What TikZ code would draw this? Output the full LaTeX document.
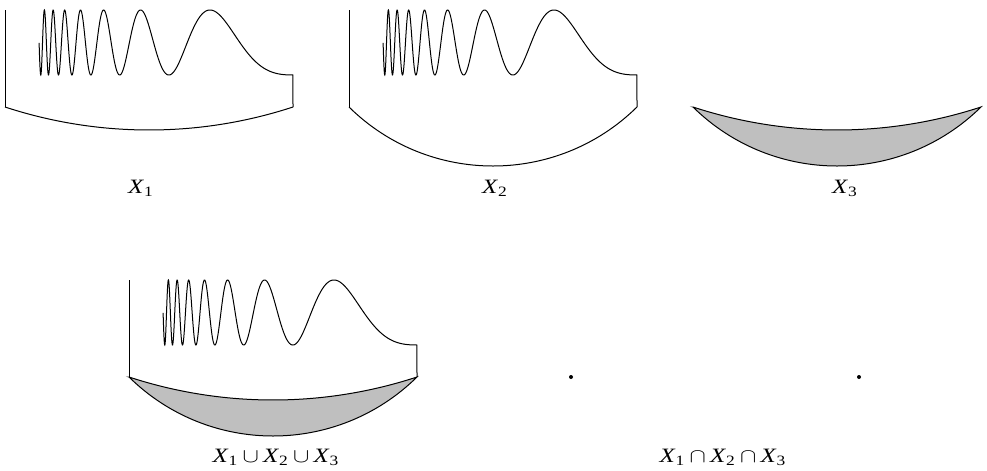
\documentclass[tikz,border=0pt]{standalone}
\usepackage{fontspec}
\setmainfont{Liberation Serif}
\definecolor{shade}{gray}{0.75}
\newcommand{\sx}[1]{\textit{X}\textsubscript{#1}}

\begin{document}
\begin{tikzpicture}[x=0.5pt, y=-0.5pt, line width=0.5pt,
  lab/.style={anchor=base, inner sep=0pt, xscale=1.22, font=\fontsize{10.2}{12}\selectfont},
  dot/.style={circle, fill, inner sep=0pt, minimum size=2pt},
  flatarc/.style={radius=462.3, start angle=108.15, end angle=71.85},
  flatback/.style={radius=462.3, start angle=71.85, end angle=108.15},
  deeparc/.style={radius=205.2, start angle=134.57, end angle=45.43},
  pics/comb/.style={code={
    \draw (0,97) -- (0,0);
    \draw plot[domain=34.1:288, samples=1200]
      (\x,{32.5-32.5*sin(deg(3378/(\x+25)-0.62+0.824*((\x+25)/313)^8))}) -- (288,97);
  }}]
  \useasboundingbox (0,0) rectangle (987,471);
  % X_1
  \pic at (5,10) {comb};
  \draw (5,107) arc[flatarc];
  \node[lab] (l1) at (141,193) {\sx{1}};
  % X_2
  \pic at (349,10) {comb};
  \draw (349,107) arc[deeparc];
  \node[lab] (l2) at (495,193) {\sx{2}};
  % X_3
  \filldraw[fill=shade] (693,107) arc[deeparc] arc[flatback] -- cycle;
  \node[lab] (l3) at (845,193) {\sx{3}};
  % union
  \filldraw[fill=shade] (129,377) arc[deeparc] arc[flatback] -- cycle;
  \pic at (129,280) {comb};
  \node[lab] (lcup) at (276,462) {\sx{1}\,$\cup$\,\sx{2}\,$\cup$\,\sx{3}};
  % intersection
  \node[dot] (d1) at (571,377) {};
  \node[dot] (d2) at (859,377) {};
  \node[lab] (lcap) at (723,462) {\sx{1}\,$\cap$\,\sx{2}\,$\cap$\,\sx{3}};
\end{tikzpicture}
\end{document}
